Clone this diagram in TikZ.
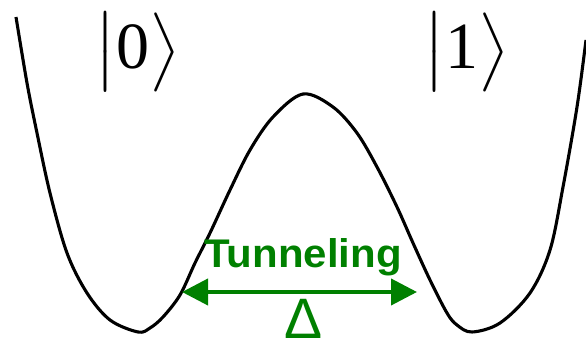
\documentclass[tikz,border=0pt]{standalone}
\usepackage{amsmath}
\usepackage{graphicx}
\usepackage{fontspec}
\setmainfont{Liberation Serif}
\newfontfamily\arialish{Liberation Sans}
\usetikzlibrary{arrows.meta}
\definecolor{tgreen}{RGB}{0,128,0}
\newcommand{\bigket}[1]{\scalebox{6.6}{$\bigl|\mbox{#1}\bigr\rangle$}}
\tikzset{
  well/.style={line width=3.1pt, black, line join=round},
  ketlabel/.style={inner sep=0pt, font=\fontsize{10}{12}\selectfont},
  greentext/.style={inner sep=0pt, text=tgreen},
  tunarrow/.style={draw=tgreen, line width=4pt, {Triangle[length=26pt,width=26pt]}-{Triangle[length=26pt,width=26pt]}}
}
\begin{document}
\begin{tikzpicture}[x=1pt,y=-1pt]
\useasboundingbox (0,0) rectangle (586,344);
\draw[well] plot[smooth, tension=0.55] coordinates {
 (16,17) (27,83) (37,133) (50,193) (67,253) (87,293) (110,320) (138,332)
 (150,328) (163,317) (180,295) (195,263) (210,233) (230,190) (250,150)
 (273,117) (303,94) (333,107) (357,133) (377,167) (397,207) (413,243)
 (430,280) (447,313) (457,325) (472,332) (500,323) (530,293) (550,250)
 (563,187) (577,107) (586,40)};
\node[ketlabel] (ket0) at (137.5,52) {\bigket{0}};
\node[ketlabel] (ket1) at (467,52) {\bigket{1}};
\node[greentext, anchor=base, font=\arialish\bfseries\fontsize{40}{40}\selectfont, xscale=1.05] (tun) at (303,268) {Tunneling};
\node[greentext, anchor=base, font=\arialish\fontsize{57}{57}\selectfont] (delta) at (303.5,338) {Δ};
\coordinate (aL) at (182,292);
\coordinate (aR) at (417,292);
\draw[tunarrow] (aL) -- (aR);
\end{tikzpicture}
\end{document}
